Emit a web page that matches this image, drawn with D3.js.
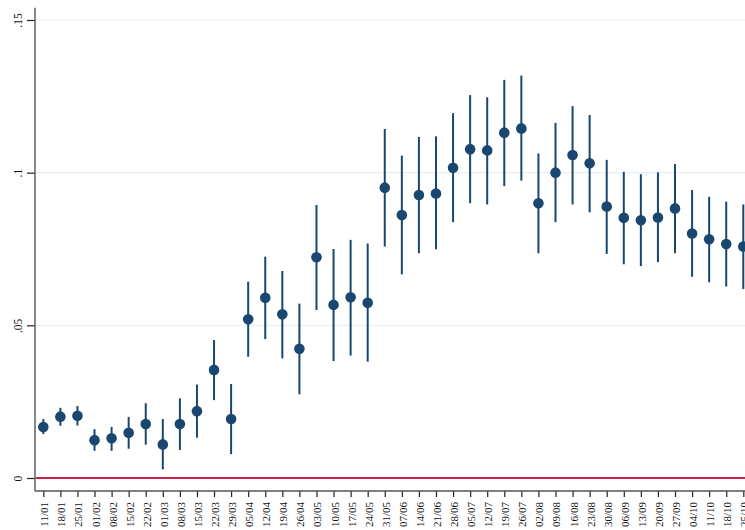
<!DOCTYPE html>
<html>
<head>
<meta charset="utf-8">
<script src="https://cdn.jsdelivr.net/npm/d3@7"></script>
<style>
  html, body { margin: 0; padding: 0; background: #fff; }
  svg { display: block; font-family: "Liberation Serif", "Times New Roman", serif; }
</style>
</head>
<body>
<svg id="chart" width="745" height="530"></svg>
<script>
// Weekly estimates with 95% confidence intervals
const weeks = ["11/01","18/01","25/01","01/02","08/02","15/02","22/02","01/03","08/03","15/03",
  "22/03","29/03","05/04","12/04","19/04","26/04","03/05","10/05","17/05","24/05",
  "31/05","07/06","14/06","21/06","28/06","05/07","12/07","19/07","26/07","02/08",
  "09/08","16/08","23/08","30/08","06/09","13/09","20/09","27/09","04/10","11/10",
  "18/10","25/10"];
const estimate = [0.0167,0.0201,0.0204,0.0124,0.0130,0.0148,0.0177,0.0110,0.0177,0.0219,
  0.0354,0.0193,0.0520,0.0590,0.0536,0.0423,0.0723,0.0567,0.0592,0.0574,
  0.0951,0.0861,0.0927,0.0932,0.1016,0.1077,0.1073,0.1131,0.1145,0.0900,
  0.1000,0.1058,0.1031,0.0889,0.0852,0.0844,0.0853,0.0883,0.0801,0.0782,
  0.0766,0.0758];
const ciLow = [0.0144,0.0171,0.0172,0.0089,0.0089,0.0096,0.0109,0.0028,0.0092,0.0132,
  0.0255,0.0078,0.0397,0.0455,0.0392,0.0274,0.0550,0.0383,0.0401,0.0381,
  0.0758,0.0667,0.0736,0.0749,0.0838,0.0900,0.0896,0.0956,0.0974,0.0736,
  0.0838,0.0896,0.0870,0.0734,0.0700,0.0694,0.0707,0.0736,0.0659,0.0641,
  0.0627,0.0619];
const ciHigh = [0.0193,0.0230,0.0236,0.0160,0.0167,0.0200,0.0245,0.0193,0.0261,0.0306,
  0.0452,0.0308,0.0643,0.0725,0.0678,0.0571,0.0894,0.0750,0.0780,0.0768,
  0.1143,0.1056,0.1117,0.1119,0.1195,0.1254,0.1247,0.1304,0.1318,0.1063,
  0.1163,0.1218,0.1189,0.1042,0.1003,0.0995,0.1001,0.1028,0.0943,0.0921,
  0.0905,0.0896];
const yTicks = [0, 0.05, 0.1, 0.15];
const yTickLabels = ["0", ".05", ".1", ".15"];

const svg = d3.select("#chart");
const W = 745;
const axisX = 35, axisY = 491;

const x = d3.scalePoint().domain(weeks).range([43.3, 743.3]);
const y = d3.scaleLinear().domain([0, 0.15]).range([478, 20]);

const rows = weeks.map((w, i) => ({ w, est: estimate[i], lo: ciLow[i], hi: ciHigh[i] }));

// horizontal grid
svg.append("g").selectAll("line").data(yTicks.filter(t => t > 0)).join("line")
  .attr("x1", axisX + 1).attr("x2", W)
  .attr("y1", d => y(d)).attr("y2", d => y(d))
  .attr("stroke", "#e8eff1").attr("stroke-width", 1.2);

// reference line at zero
svg.append("line")
  .attr("x1", axisX + 1).attr("x2", W)
  .attr("y1", y(0)).attr("y2", y(0))
  .attr("stroke", "#d21f47").attr("stroke-width", 1.8);

// y axis
const yAxis = d3.axisLeft(y).tickValues(yTicks)
  .tickFormat((d, i) => yTickLabels[i]).tickSize(8).tickPadding(0);
const gy = svg.append("g").attr("transform", `translate(${axisX},0)`).call(yAxis);
gy.select(".domain").remove();
gy.selectAll(".tick line").attr("stroke", "#222").attr("stroke-width", 1.2);
gy.selectAll(".tick text")
  .attr("x", null).attr("dy", null)
  .attr("transform", "translate(-13,0) rotate(-90)")
  .attr("text-anchor", "middle")
  .attr("font-size", 11.5).attr("fill", "#111")
  .attr("font-family", "Liberation Serif, serif");
svg.append("line")
  .attr("x1", axisX).attr("x2", axisX)
  .attr("y1", y(0.154)).attr("y2", axisY)
  .attr("stroke", "#555").attr("stroke-width", 1.4);

// x axis
const xAxis = d3.axisBottom(x).tickSize(6).tickPadding(0);
const gx = svg.append("g").attr("transform", `translate(0,${axisY})`).call(xAxis);
gx.select(".domain").remove();
gx.selectAll(".tick line").attr("stroke", "#222").attr("stroke-width", 1.2);
gx.selectAll(".tick text")
  .attr("y", null).attr("dy", null)
  .attr("transform", "translate(4.5,11) rotate(-90)")
  .attr("text-anchor", "end")
  .attr("font-size", 11).attr("fill", "#111")
  .attr("font-family", "Liberation Serif, serif");
svg.append("line")
  .attr("x1", axisX).attr("x2", W)
  .attr("y1", axisY).attr("y2", axisY)
  .attr("stroke", "#555").attr("stroke-width", 1.4);

// confidence intervals
svg.append("g").selectAll("line").data(rows).join("line")
  .attr("x1", d => x(d.w)).attr("x2", d => x(d.w))
  .attr("y1", d => y(d.lo)).attr("y2", d => y(d.hi))
  .attr("stroke", "#1a476f").attr("stroke-width", 2);

// point estimates
svg.append("g").selectAll("circle").data(rows).join("circle")
  .attr("cx", d => x(d.w)).attr("cy", d => y(d.est))
  .attr("r", 5.3)
  .attr("fill", "#1a476f");
</script>
</body>
</html>
